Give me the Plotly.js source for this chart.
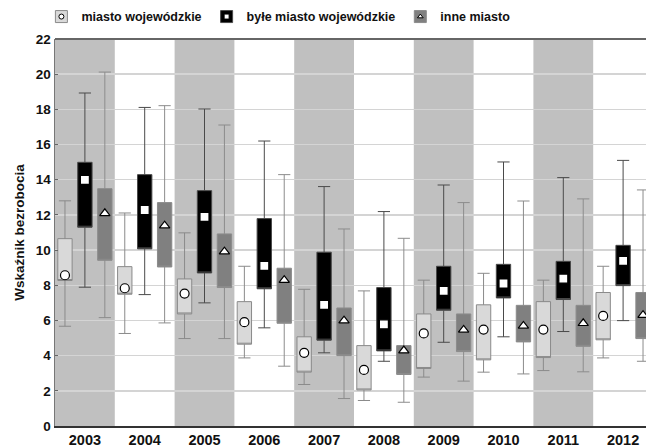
<!DOCTYPE html>
<html>
<head>
<meta charset="utf-8">
<script src="https://cdn.plot.ly/plotly-3.0.1.min.js"></script>
<style>
html,body{margin:0;padding:0;background:#fff;}
#chart{width:646px;height:447px;}
</style>
</head>
<body>
<div id="chart"></div>
<script>
// ---- data ----
var years = ['2003','2004','2005','2006','2007','2008','2009','2010','2011','2012'];
var shadedYears = ['2003','2005','2007','2009','2011'];

// miasto wojewódzkie
var woj_min    = [5.67, 5.26, 4.97, 3.87, 2.36, 1.45, 2.78, 3.06, 3.15, 3.87];
var woj_q1     = [8.27, 7.49, 6.37, 4.65, 3.06, 2.05, 3.27, 3.76, 3.89, 4.90];
var woj_center = [8.57, 7.83, 7.53, 5.90, 4.16, 3.19, 5.26, 5.48, 5.48, 6.26];
var woj_q3     = [10.65, 9.06, 8.36, 7.07, 5.07, 4.57, 6.37, 6.89, 7.07, 7.59];
var woj_max    = [12.80, 12.11, 10.98, 9.08, 7.77, 7.68, 8.29, 8.68, 8.29, 9.08];

// byłe miasto wojewódzkie
var byle_min    = [7.89, 7.47, 7.00, 5.58, 4.16, 3.68, 4.76, 5.07, 5.37, 5.99];
var byle_q1     = [11.30, 10.07, 8.70, 7.80, 4.88, 4.27, 6.58, 7.28, 7.19, 7.98];
var byle_center = [13.99, 12.28, 11.89, 9.10, 6.89, 5.78, 7.68, 8.10, 8.38, 9.39];
var byle_q3     = [14.99, 14.29, 13.38, 11.79, 9.88, 7.87, 9.08, 9.19, 9.36, 10.27];
var byle_max    = [18.93, 18.11, 18.02, 16.20, 13.61, 12.19, 13.70, 15.01, 14.12, 15.10];

// inne miasto
var inne_min    = [6.16, 5.86, 4.97, 3.40, 1.56, 1.35, 2.55, 2.96, 3.08, 3.68];
var inne_q1     = [9.42, 9.04, 7.87, 5.84, 4.00, 2.93, 4.23, 4.78, 4.53, 4.97];
var inne_center = [12.09, 11.39, 9.91, 8.29, 5.99, 4.29, 5.46, 5.69, 5.84, 6.30];
var inne_q3     = [13.49, 12.70, 10.92, 8.97, 6.71, 4.57, 6.37, 6.86, 6.86, 7.59];
var inne_max    = [20.12, 18.21, 17.11, 14.29, 11.20, 10.67, 12.70, 12.79, 12.91, 13.42];

var seriesNames = ['miasto wojewódzkie', 'byłe miasto wojewódzkie', 'inne miasto'];
var symbols = ['circle', 'square', 'triangle-up'];
var yTicks = [0, 2, 4, 6, 8, 10, 12, 14, 16, 18, 20, 22];

// ---- traces ----
function boxTrace(name, mn, q1, q3, mx, fill, line) {
  return {
    type: 'box', name: name, x: years,
    lowerfence: mn, q1: q1, median: q1, q3: q3, upperfence: mx,
    fillcolor: fill, line: {color: line, width: 1},
    whiskerwidth: 0.85, boxpoints: false, hoverinfo: 'skip',
    showlegend: true, legend: 'legend'
  };
}
function markTrace(k, vals) {
  return {
    type: 'scatter', mode: 'markers', name: seriesNames[k], x: years, y: vals,
    offsetgroup: 'g' + k, alignmentgroup: 'm',
    marker: {symbol: symbols[k], size: 9, color: '#ffffff', line: {color: '#000', width: 1.2}},
    showlegend: false, hoverinfo: 'skip'
  };
}
// legend-only symbol overlays (no data), sharing the series' offset group
function legendSymbol(k) {
  return {
    type: 'scatter', mode: 'markers', name: seriesNames[k], x: [null], y: [null],
    offsetgroup: 'g' + k, alignmentgroup: 'm',
    marker: {symbol: symbols[k], size: 5, color: '#ffffff', line: {color: '#000', width: 1}},
    showlegend: true, legend: 'legend2', hoverinfo: 'skip'
  };
}

var data = [
  boxTrace(seriesNames[0], woj_min, woj_q1, woj_q3, woj_max, '#d9d9d9', '#8a8a8a'),
  boxTrace(seriesNames[1], byle_min, byle_q1, byle_q3, byle_max, '#000000', '#4a4a4a'),
  boxTrace(seriesNames[2], inne_min, inne_q1, inne_q3, inne_max, '#808080', '#8c8c8c'),
  markTrace(0, woj_center),
  markTrace(1, byle_center),
  markTrace(2, inne_center),
  legendSymbol(0),
  legendSymbol(1),
  legendSymbol(2)
];

var shapes = shadedYears.map(function (yr) {
  var i = years.indexOf(yr);
  return {type: 'rect', xref: 'x', yref: 'paper', x0: i - 0.5, x1: i + 0.5, y0: 0, y1: 1,
          fillcolor: '#c0c0c0', line: {width: 0}, layer: 'between'};
});
// top frame line
shapes.push({type: 'line', xref: 'paper', yref: 'paper', x0: 0, x1: 1, y0: 1, y1: 1,
             line: {color: '#666', width: 2}, layer: 'above'});

var legendBase = {orientation: 'h', x: 0.378, xanchor: 'center', y: 1.057, yanchor: 'middle',
                  itemwidth: 30, tracegroupgap: 0, bgcolor: 'rgba(0,0,0,0)'};

var layout = {
  width: 646, height: 447,
  margin: {l: 55, r: 0, t: 39, b: 21},
  paper_bgcolor: '#ffffff', plot_bgcolor: '#ffffff',
  font: {family: 'Liberation Sans, Arial, sans-serif', color: '#111'},
  boxmode: 'group', boxgap: 0, boxgroupgap: 0.28,
  scattermode: 'group', scattergap: 0,
  showlegend: true,
  legend: Object.assign({}, legendBase, {font: {size: 12.5, weight: 'bold', color: '#111'}}),
  legend2: Object.assign({}, legendBase, {font: {size: 12.5, weight: 'bold', color: 'rgba(0,0,0,0)'}}),
  xaxis: {
    type: 'category', range: [-0.5, 9.383], showgrid: false, zeroline: false,
    showline: true, linecolor: '#333', linewidth: 2, mirror: false,
    ticks: '', tickfont: {size: 14.5, weight: 'bold', color: '#111'}, fixedrange: true
  },
  yaxis: {
    range: [0, 22], tickvals: yTicks, ticktext: yTicks.map(String),
    showgrid: true, gridcolor: '#d4d4d4', gridwidth: 1.5, zeroline: false,
    showline: true, linecolor: '#777', linewidth: 1.5,
    ticks: 'inside', ticklen: 3, tickcolor: '#666',
    tickfont: {size: 13.5, weight: 'bold', color: '#111'},
    title: {text: 'Wskaźnik bezrobocia', font: {size: 13.5, weight: 'bold', color: '#111'}, standoff: 8}
  },
  shapes: shapes
};

Plotly.newPlot('chart', data, layout, {displayModeBar: false, staticPlot: true});
</script>
</body>
</html>
